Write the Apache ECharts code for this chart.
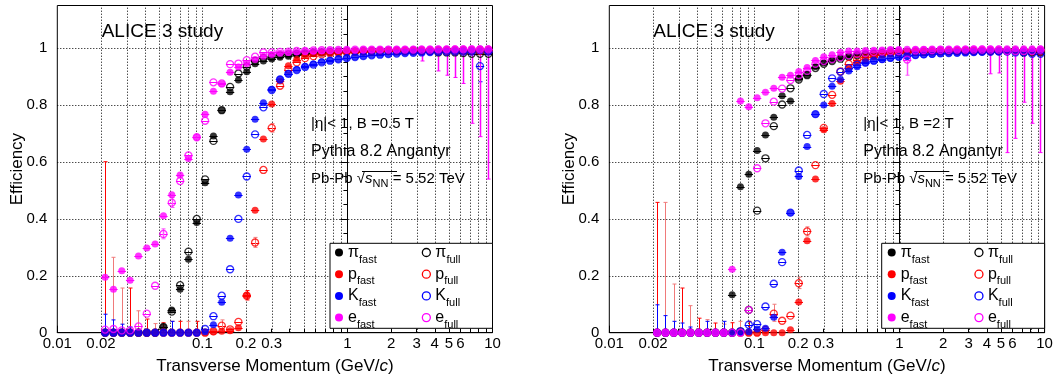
<!DOCTYPE html>
<html><head><meta charset="utf-8">
<script src="https://cdn.jsdelivr.net/npm/echarts@6/dist/echarts.min.js"></script>
<style>html,body{margin:0;padding:0;background:#fff}#c{width:1053px;height:376px}</style>
</head><body><div id="c"></div>
<script>
// ---- data ----
const ptBins = [0.02136,0.02439,0.02783,0.03177,0.03627,0.04139,0.04724,0.05392,0.06154,0.07024,0.08017,0.09150,0.10443,0.11920,0.13604,0.15527,0.17722,0.20227,0.23086,0.26349,0.30073,0.34325,0.39177,0.44714,0.51034,0.58248,0.66481,0.75879,0.86604,0.98871,1.12836,1.28786,1.46989,1.67766,1.91480,2.18545,2.49437,2.84696,3.24937,3.70867,4.23289,4.83121,5.51410,6.29352,7.18312,8.19847,9.35731];

// B = 0.5 T
const piFastL = [0,0,0,0,0,0,0, 0.02,0.08,0.153,0.258,0.387,0.527,0.691,0.782,0.847,0.888, 0.917,0.945,0.955,0.962,0.968,0.972,0.976,0.98,0.982,0.985, 0.987,0.988,0.99,0.99,0.991,0.992,0.992,0.993,0.993,0.993, 0.994,0.994,0.994,0.995,0.995,0.995,0.995,0.995,0.996,0.996];
const piFullL = [0,0,0,0,0,0,0, 0.02,0.074,0.167,0.285,0.40,0.539,0.674,0.782,0.864,0.911, 0.935,0.955,0.965,0.97,0.975,0.978,0.98,0.982,0.984,0.985, 0.986,0.987,0.988,0.988,0.989,0.989,0.99,0.99,0.99,0.99, 0.99,0.99,0.99,0.985,0.985,0.985,0.983,0.98,0.98,0.98];
const pFastL = [0,0,0,0,0,0,0,0,0,0,0,0,0, 0.003,0.005,0.007,0.017, 0.132,0.43,0.681,0.804,0.885,0.938,0.96,0.975,0.98,0.983, 0.985,0.987,0.988,0.989,0.99,0.99,0.991,0.991,0.992,0.992, 0.992,0.993,0.993,0.993,0.994,0.994,0.994,0.994,0.995,0.995];
const pFullL = [0,0,0,0,0,0,0,0,0,0,0,0,0, 0.005,0.025,0.012,0.038, 0.13,0.317,0.572,0.72,0.868,0.925,0.95,0.965,0.972,0.978, 0.982,0.984,0.986,0.987,0.988,0.989,0.99,0.99,0.99,0.99, 0.99,0.99,0.99,0.99,0.99,0.99,0.99,0.99,0.99,0.99];
const kFastL = [0,0,0,0,0,0,0,0,0,0,0,0, 0.003,0.028,0.107,0.332,0.484, 0.645,0.75,0.808,0.855,0.891,0.91,0.925,0.936,0.944,0.951, 0.957,0.962,0.966,0.97,0.973,0.976,0.978,0.98,0.982,0.984, 0.985,0.986,0.987,0.988,0.989,0.99,0.99,0.99,0.99,0.99];
const kFullL = [0,0,0,0,0,0,0,0,0,0,0,0, 0.013,0.058,0.13,0.223,0.40, 0.549,0.697,0.792,0.853,0.89,0.91,0.923,0.934,0.942,0.95, 0.956,0.961,0.965,0.969,0.972,0.975,0.977,0.979,0.981,0.983, 0.984,0.985,0.986,0.987,0.987,0.988,0.988,0.988,0.937,0.988];
const eFastL = [0.195,0.153,0.218,0.184,0.270,0.298,0.312,0.411,0.485,0.554, 0.612,0.687,0.768,0.849,0.875,0.915,0.934,0.945,0.96,0.972, 0.978,0.982,0.985,0.987,0.989,0.99,0.991,0.992,0.993,0.994, 0.994,0.995,0.995,0.995,0.996,0.996,0.996,0.996,0.997,0.997, 0.997,0.997,0.998,0.998,0.998,0.998,0.998];
const eFullL = [0.011,0.013,0.008,0.008,0.022,0.067,0.165,0.347,0.457,0.533, 0.623,0.687,0.745,0.88,0.876,0.944,0.946,0.958,0.97,0.985, 0.985,0.987,0.988,0.99,0.99,0.992,0.993,0.993,0.994,0.994, 0.995,0.995,0.995,0.995,0.995,0.995,0.995,0.995,0.995,0.995, 0.996,0.996,0.996,0.996,0.996,0.996,0.996];

// B = 2 T
const piFastR = [0,0,0,0,0,0,0,0,0, 0.133,0.513,0.557,0.64,0.695,0.757,0.833,0.814,0.894,0.906, 0.935,0.948,0.958,0.966,0.972,0.977,0.98,0.983,0.985,0.987, 0.988,0.989,0.99,0.99,0.991,0.991,0.992,0.992,0.992,0.993, 0.993,0.993,0.993,0.994,0.994,0.994,0.994,0.994];
const piFullR = [0,0,0,0,0,0,0,0,0,0, 0.005,0.08,0.429,0.613,0.726,0.802,0.859,0.89,0.905,0.93, 0.945,0.955,0.963,0.97,0.975,0.978,0.981,0.983,0.985,0.986, 0.987,0.988,0.988,0.989,0.989,0.99,0.99,0.99,0.99,0.99, 0.99,0.99,0.99,0.99,0.985,0.985,0.985];
const pFastR = [0,0,0,0,0,0,0,0,0,0,0,0,0,0,0,0, 0.01,0.108,0.323,0.54,0.713,0.806,0.884,0.93,0.95,0.962, 0.97,0.976,0.98,0.983,0.985,0.986,0.987,0.988,0.988,0.989, 0.989,0.99,0.99,0.99,0.99,0.99,0.99,0.99,0.99,0.99,0.99];
const pFullR = [0,0,0,0,0,0,0,0,0,0,0,0,0, 0.01,0.067,0.042,0.06,0.174,0.356,0.589,0.72,0.836,0.918, 0.945,0.96,0.968,0.975,0.98,0.983,0.985,0.986,0.987,0.988, 0.988,0.989,0.989,0.99,0.99,0.99,0.99,0.99,0.99,0.99,0.99,0.99,0.99,0.99];
const kFastR = [0,0,0,0,0,0,0,0,0,0,0, 0.003,0.013,0.016,0.054,0.283,0.422,0.549,0.654,0.768,0.80, 0.866,0.89,0.92,0.935,0.947,0.955,0.96,0.965,0.969,0.972, 0.975,0.977,0.979,0.981,0.983,0.984,0.985,0.986,0.987,0.988, 0.988,0.989,0.989,0.99,0.99,0.99];
const kFullR = [0,0,0,0,0,0,0,0,0,0, 0.005,0.028,0.03,0.092,0.172,0.248,0.422,0.57,0.695,0.768, 0.839,0.894,0.917,0.93,0.942,0.95,0.956,0.962,0.966,0.97, 0.973,0.976,0.978,0.98,0.982,0.983,0.984,0.985,0.986,0.987, 0.987,0.988,0.988,0.985,0.985,0.98,0.98];
const eFastR = [0,0,0,0,0,0,0,0,0, 0.223,0.814,0.794,0.826,0.845,0.859,0.898,0.905,0.918,0.932, 0.957,0.97,0.977,0.985,0.99,0.99,0.992,0.993,0.994,0.995, 0.995,0.996,0.996,0.996,0.997,0.997,0.997,0.997,0.997,0.998, 0.998,0.998,0.998,0.998,0.998,0.998,0.998,0.998];
const eFullR = [0,0,0,0,0,0,0,0,0,0,0, 0.08,0.578,0.736,0.812,0.858,0.888,0.905,0.92,0.945,0.955, 0.962,0.968,0.975,0.98,0.983,0.986,0.988,0.99,0.99,0.96, 0.992,0.993,0.993,0.994,0.994,0.995,0.995,0.995,0.995,0.995, 0.995,0.99,0.99,0.99,0.99,0.995];

// vertical error bars: [bin, low, high]
const pFastErrL = [[0,0,0.601],[3,0,0.157],[5,0,0.048],[7,0,0.035],[9,0,0.04],[11,0,0.04],[17,0.115,0.148]];
const pFullErrL = [[1,0,0.265],[2,0,0.157],[4,0,0.077],[6,0,0.032],[8,0,0.04],[10,0,0.04],[14,0.005,0.045],[18,0.30,0.335],[20,0.705,0.735]];
const kFastErrL = [[0,0,0.065],[1,0,0.045],[2,0,0.03],[3,0,0.02],[8,0,0.04]];
const kFullErrL = [[45,0.882,0.99]];
const eFastErrL = [[38,0.955,1.0],[40,0.92,1.0],[41,0.905,1.0],[42,0.897,1.0],[43,0.876,1.0],[44,0.736,1.0],[45,0.689,1.0],[46,0.54,1.0]];
const eFullErrL = [[7,0.33,0.365],[8,0.44,0.475]];
const pFastErrR = [[0,0,0.458],[3,0,0.157],[5,0,0.051],[7,0,0.034],[9,0,0.035],[11,0,0.04]];
const pFullErrR = [[1,0,0.458],[2,0,0.171],[4,0,0.095],[6,0,0.046],[8,0,0.03],[10,0,0.04],[14,0.04,0.10],[17,0.155,0.195],[18,0.34,0.372]];
const kFastErrR = [[0,0,0.098],[1,0,0.06],[2,0,0.04],[3,0,0.034],[4,0,0.02],[6,0,0.04],[8,0,0.04]];
const kFullErrR = [];
const eFastErrR = [[40,0.91,1.0],[41,0.913,1.0],[42,0.633,1.0],[43,0.683,1.0],[44,0.81,1.0],[45,0.736,1.0],[46,0.633,1.0]];
const eFullErrR = [[30,0.905,0.99]];
const noErr = [];

// ticks / labels
const xLabelVals = [0.01,0.02,0.1,0.2,0.3,1,2,3,4,5,6,10];
const xLabelText = ['0.01','0.02','0.1','0.2','0.3','1','2','3','4','5','6','10'];
const xMinorVals = [0.02,0.03,0.04,0.05,0.06,0.07,0.08,0.09,0.2,0.3,0.4,0.5,0.6,0.7,0.8,0.9,2,3,4,5,6,7,8,9];
const xMajorVals = [0.01,0.1,1,10];
const xGridVals = [0.02,0.03,0.04,0.05,0.06,0.07,0.08,0.09,0.1,0.2,0.3,0.4,0.5,0.6,0.7,0.8,0.9,1,2,3,4,5,6,7,8,9];
const yMajorVals = [0,0.2,0.4,0.6,0.8,1];
const yMinorVals = [0,0.05,0.1,0.15,0.2,0.25,0.3,0.35,0.4,0.45,0.5,0.55,0.6,0.65,0.7,0.75,0.8,0.85,0.9,0.95,1,1.05,1.1,1.15];
const yGridVals = [0.2,0.4,0.6,0.8,1];
const yLabelText = ['0','0.2','0.4','0.6','0.8','1'];
const seriesNames = ['pi_fast','pi_full','p_fast','p_full','K_fast','K_full','e_fast','e_full'];
const panelTexts = [['|η|< 1, B =0.5 T','Pythia 8.2 Angantyr'],['|η|< 1, B =2 T','Pythia 8.2 Angantyr']];

// ---- styling / layout ----
const FONT = 'Liberation Sans, Arial, Helvetica, sans-serif';
const YMAX = 1.15;
const colors = {pi:'#000000', p:'#ff0000', K:'#0000ff', e:'#ff00ff'};
const errColors = {pi_fast:'#000', pi_full:'#000', p_fast:'#ff0000', p_full:'#f07a7a', K_fast:'#0000ff', K_full:'#0000ff', e_fast:'#ff00ff', e_full:'#ff55ff'};
const grids = [
  {left:57.3, top:5.5, width:435.2, height:327.2},
  {left:609.3, top:5.5, width:435.3, height:327.2}
];
const L10 = Math.log10;
const halfW = (L10(ptBins[1]) - L10(ptBins[0])) / 2;

const panelData = [
  [piFastL,piFullL,pFastL,pFullL,kFastL,kFullL,eFastL,eFullL],
  [piFastR,piFullR,pFastR,pFullR,kFastR,kFullR,eFastR,eFullR]
];
const panelErr = [
  [noErr,noErr,pFastErrL,pFullErrL,kFastErrL,kFullErrL,eFastErrL,eFullErrL],
  [noErr,noErr,pFastErrR,pFullErrR,kFastErrR,kFullErrR,eFastErrR,eFullErrR]
];

function lblFmt(vals, texts){
  return function(v){
    for (let i=0;i<vals.length;i++){ if (Math.abs(L10(vals[i]) - v) < 1e-6) return texts[i]; }
    return '';
  };
}
function yFmt(v){
  for (let i=0;i<yMajorVals.length;i++){ if (Math.abs(yMajorVals[i]-v) < 1e-6) return yLabelText[i]; }
  return '';
}

const xAxes = [], yAxes = [], series = [];
grids.forEach((g, gi) => {
  xAxes.push({
    gridIndex: gi, type:'value', min:-2, max:1, position:'bottom',
    axisLine:{show:true, onZero:false, lineStyle:{color:'#000', width:1}},
    axisTick:{show:true, inside:true, length:4, customValues:xMinorVals.map(L10), lineStyle:{color:'#000'}},
    axisLabel:{show:true, customValues:xLabelVals.map(L10), formatter:lblFmt(xLabelVals,xLabelText), fontSize:15, fontFamily:FONT, color:'#000', margin:4, hideOverlap:false},
    splitLine:{show:false},
    name:'Transverse Momentum (GeV/{i|c})', nameLocation:'middle', nameGap:25,
    nameTextStyle:{fontSize:17, fontFamily:FONT, color:'#000', rich:{i:{fontSize:17, fontFamily:FONT, fontStyle:'italic', color:'#000'}}}
  });
  xAxes.push({
    gridIndex: gi, type:'value', min:-2, max:1, position:'bottom',
    axisLine:{show:false}, axisLabel:{show:false}, splitLine:{show:false},
    axisTick:{show:true, inside:true, length:7, customValues:xMajorVals.map(L10), lineStyle:{color:'#000'}}
  });
  yAxes.push({
    gridIndex: gi, type:'value', min:0, max:YMAX, position:'left',
    axisLine:{show:true, lineStyle:{color:'#000', width:1}},
    axisTick:{show:true, inside:false, length:4, customValues:yMinorVals, lineStyle:{color:'#000'}},
    axisLabel:{show:false}, splitLine:{show:false},
    name:'Efficiency', nameLocation:'middle', nameGap:31,
    nameTextStyle:{fontSize:17, fontFamily:FONT, color:'#000'}
  });
  yAxes.push({
    gridIndex: gi, type:'value', min:0, max:YMAX, position:'left',
    axisLine:{show:false}, splitLine:{show:false},
    axisTick:{show:true, inside:false, length:7, customValues:yMajorVals, lineStyle:{color:'#000'}},
    axisLabel:{show:true, customValues:yMajorVals, formatter:yFmt, fontSize:15, fontFamily:FONT, color:'#000', margin:10, hideOverlap:false}
  });
  const xi = gi*2, yi = gi*2;
  // grid lines
  series.push({
    type:'custom', xAxisIndex:xi, yAxisIndex:yi, silent:true, z:1,
    data: xGridVals.map(v => [L10(v)]),
    renderItem: (p, api) => {
      const a = api.coord([api.value(0), 0]), b = api.coord([api.value(0), YMAX]);
      const x = Math.round(a[0]) + 0.5;
      return {type:'line', shape:{x1:x, y1:a[1], x2:x, y2:b[1]}, style:{stroke:'#000', lineWidth:1, lineDash:[1,2]}};
    }
  });
  series.push({
    type:'custom', xAxisIndex:xi, yAxisIndex:yi, silent:true, z:1,
    data: yGridVals.map(v => [0, v]),
    renderItem: (p, api) => {
      const a = api.coord([-2, api.value(1)]), b = api.coord([1, api.value(1)]);
      const y = Math.round(a[1]) + 0.5;
      return {type:'line', shape:{x1:a[0], y1:y, x2:b[0], y2:y}, style:{stroke:'#000', lineWidth:1, lineDash:[1,2]}};
    }
  });
  seriesNames.forEach((nm, si) => {
    const vals = panelData[gi][si];
    const errs = panelErr[gi][si];
    const part = nm.split('_')[0];
    const col = colors[part];
    const ec = errColors[nm];
    const ew = part === 'e' ? 1.5 : 1;
    const isFull = nm.endsWith('full');
    const errData = ptBins.map((pt, i) => {
      const lx = L10(pt);
      let lo = vals[i], hi = vals[i];
      errs.forEach(e => { if (e[0] === i) { lo = e[1]; hi = e[2]; } });
      return [lx, vals[i], lx - halfW, lx + halfW, lo, hi];
    });
    series.push({
      type:'custom', name:nm, xAxisIndex:xi, yAxisIndex:yi, silent:true, z:2, clip:true,
      data: errData,
      renderItem: (p, api) => {
        const c = api.coord([api.value(0), api.value(1)]);
        const l = api.coord([api.value(2), api.value(1)]);
        const r = api.coord([api.value(3), api.value(1)]);
        const lo = api.coord([api.value(0), api.value(4)]);
        const hi = api.coord([api.value(0), api.value(5)]);
        const x = Math.round(c[0]) + 0.5, y = Math.round(c[1]) + 0.5;
        const ch = [{type:'line', shape:{x1:l[0], y1:y, x2:r[0], y2:y}, style:{stroke:col, lineWidth:1}}];
        if (Math.abs(hi[1] - lo[1]) > 0.5) {
          ch.push({type:'line', shape:{x1:x, y1:lo[1], x2:x, y2:hi[1]}, style:{stroke:ec, lineWidth:ew}});
          ch.push({type:'line', shape:{x1:x-2, y1:hi[1], x2:x+2, y2:hi[1]}, style:{stroke:ec, lineWidth:1}});
          ch.push({type:'line', shape:{x1:x-2, y1:lo[1], x2:x+2, y2:lo[1]}, style:{stroke:ec, lineWidth:1}});
        }
        return {type:'group', children:ch};
      }
    });
    series.push({
      type:'scatter', name:nm, xAxisIndex:xi, yAxisIndex:yi, z:3,
      symbol:'circle', symbolSize: 7,
      itemStyle: isFull ? {color:'rgba(255,255,255,0)', borderColor:col, borderWidth:1.3} : {color:col, borderWidth:0},
      emphasis:{disabled:true},
      data: ptBins.map((pt, i) => [L10(pt), vals[i]])
    });
  });
});

// legends
const legRich = {
  m:{fontSize:16, lineHeight:16, fontFamily:FONT, color:'#000'},
  s:{fontSize:11, lineHeight:11, fontFamily:FONT, color:'#000', padding:[14,0,0,0]}
};
function legFmt(name){ const pr = name.split('_'); const sym = pr[0]==='pi' ? 'π' : pr[0]; return '{m|'+sym+'}{s|'+pr[1]+'}'; }
function legData(names){
  return names.map(nm => {
    const col = colors[nm.split('_')[0]];
    const full = nm.endsWith('full');
    return {name:nm, icon:'circle', itemStyle: full ? {color:'rgba(255,255,255,0)', borderColor:col, borderWidth:1.3} : {color:col, borderWidth:0}};
  });
}
const legendPos = [[335, 240],[421.7, 240],[887.7, 240],[974.3, 240]];
const legends = legendPos.map((p, k) => ({
  orient:'vertical', left:p[0], top:p[1], padding:0, itemGap:-3.3, itemWidth:8, itemHeight:8,
  selectedMode:false, z:10,
  data: legData(k % 2 === 0 ? ['pi_fast','p_fast','K_fast','e_fast'] : ['pi_full','p_full','K_full','e_full']),
  formatter: legFmt,
  textStyle:{fontFamily:FONT, color:'#000', rich:legRich}
}));

// text / frames
const graphics = [];
[[101.7, 330, 311], [653.3, 881.7, 863.3]].forEach((o, gi) => {
  graphics.push({type:'text', left:o[0], top:22, z:20, style:{text:'ALICE 3 study', font:'19px '+FONT, fill:'#000'}});
  graphics.push({type:'text', left:o[2], top:116, z:20, style:{text:panelTexts[gi][0], font:'15px '+FONT, fill:'#000'}});
  graphics.push({type:'text', left:o[2], top:143.2, z:20, style:{text:panelTexts[gi][1], font:'16px '+FONT, fill:'#000'}});
  graphics.push({type:'text', left:o[2], top:169, z:20, style:{
    text:'{t|Pb-Pb }{r|√}{i|s}{n|NN}{t| = 5.52 TeV}',
    rich:{
      t:{fontSize:15, fontFamily:FONT, fill:'#000', lineHeight:20},
      r:{fontSize:15, fontFamily:FONT, fill:'#000', lineHeight:20},
      i:{fontSize:15, fontFamily:FONT, fontStyle:'italic', fill:'#000', lineHeight:20},
      n:{fontSize:11, fontFamily:FONT, fill:'#000', lineHeight:11, padding:[9,0,0,0], verticalAlign:'bottom'}
    }
  }});
  // radical overline
  graphics.push({type:'line', z:20, shape:{x1:o[2]+51, y1:171.5, x2:o[2]+86, y2:171.5}, style:{stroke:'#000', lineWidth:1}});
  graphics.push({type:'rect', z:5, shape:{x:o[1], y:243.3, width:(gi===0?492.5:1044.6)-o[1], height:85}, style:{fill:'#fff', stroke:'#000', lineWidth:1}});
});

const chart = echarts.init(document.getElementById('c'), null, {renderer:'canvas'});
chart.setOption({
  animation:false,
  backgroundColor:'#fff',
  grid: grids.map(g => Object.assign({show:true, borderColor:'#000', borderWidth:1, backgroundColor:'transparent', containLabel:false, outerBoundsMode:'none'}, g)),
  xAxis: xAxes, yAxis: yAxes, series: series, legend: legends, graphic: graphics,
  tooltip:{show:false}
});
</script>
</body></html>
